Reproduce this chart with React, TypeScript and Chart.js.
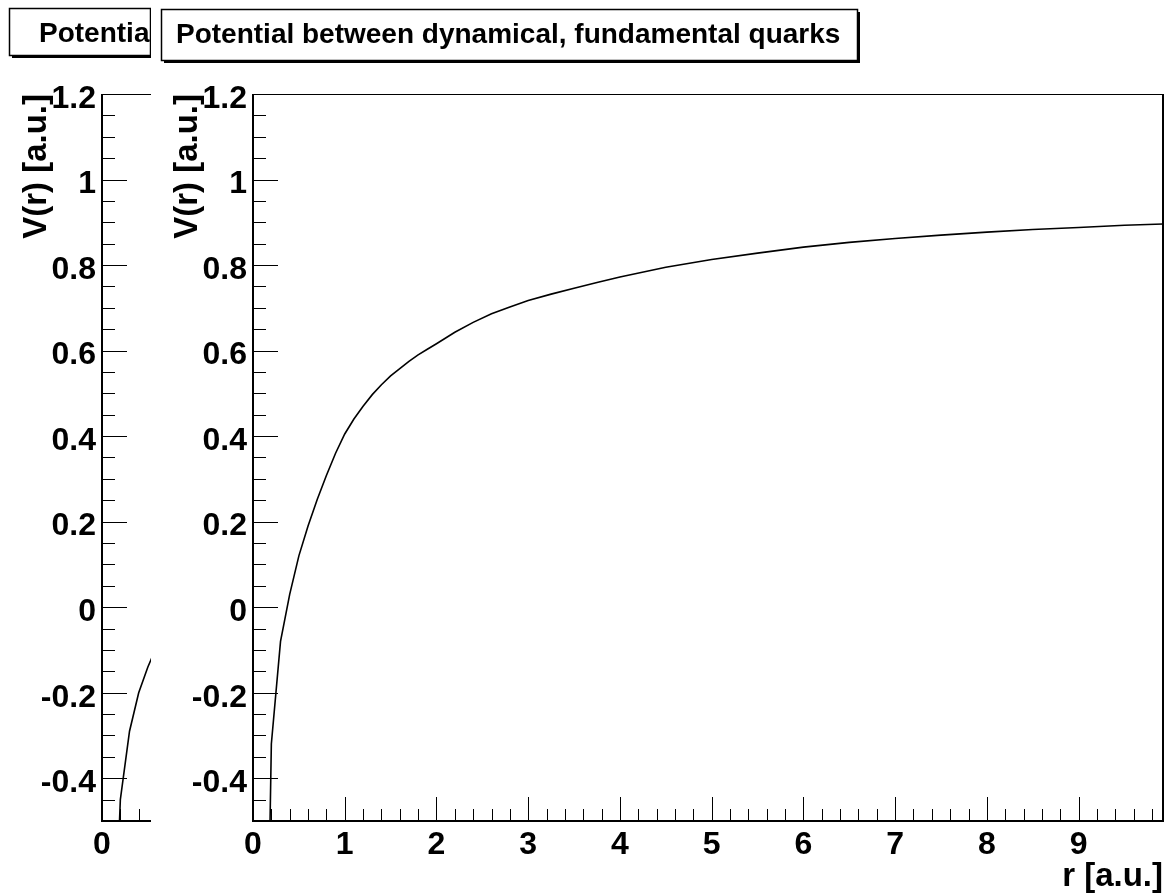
import React, { useEffect, useRef } from "react";
import { Chart, registerables } from "chart.js";

Chart.register(...registerables);

// ---------- data ----------
// Right canvas: dynamical, fundamental quarks
const R_DYN = [0.1, 0.2, 0.3, 0.4, 0.5, 0.6, 0.7, 0.8, 0.9, 1.0, 1.1, 1.2, 1.3, 1.4, 1.5, 1.6, 1.7, 1.8, 1.9, 2.0, 2.2, 2.4, 2.6, 2.8, 3.0, 3.25, 3.5, 3.75, 4.0, 4.5, 5.0, 5.5, 6.0, 6.5, 7.0, 7.5, 8.0, 8.5, 9.0, 9.5, 9.92];
const V_DYN = [-1.6, -0.32, -0.08, 0.03, 0.12, 0.19, 0.252, 0.308, 0.36, 0.405, 0.44, 0.47, 0.497, 0.52, 0.541, 0.558, 0.575, 0.59, 0.603, 0.616, 0.643, 0.666, 0.686, 0.702, 0.717, 0.732, 0.746, 0.759, 0.772, 0.795, 0.813, 0.828, 0.842, 0.853, 0.862, 0.87, 0.877, 0.883, 0.888, 0.893, 0.896];

// Left canvas (mostly hidden behind the right one)
const R_STAT = [0.1, 0.2, 0.3, 0.4, 0.5, 0.6, 0.8];
const V_STAT = [-1.0, -0.45, -0.29, -0.2, -0.14, -0.09, -0.02];

const X_TICKS = [0, 1, 2, 3, 4, 5, 6, 7, 8, 9];
const Y_TICKS = [-0.4, -0.2, 0, 0.2, 0.4, 0.6, 0.8, 1, 1.2];
const X_MIN = 0;
const X_MAX = 9.92;
const Y_MIN = -0.5;
const Y_MAX = 1.2;
const X_MINOR = 0.2;
const Y_MINOR = 0.05;

const TITLE_DYN = "Potential between dynamical, fundamental quarks";
const TITLE_STAT = "Potential between static, fundamental quarks";
const X_TITLE = "r [a.u.]";
const Y_TITLE = "V(r) [a.u.]";

// ---------- layout ----------
const W = 1014;
const H = 895;
const FONT_FAMILY = '"Liberation Sans", Arial, Helvetica, sans-serif';

const fmt = (v: number) => String(Math.round(v * 10) / 10);

const rootStyle = {
  id: "rootStyle",
  beforeDraw(chart: any) {
    const { ctx, width, height } = chart;
    ctx.save();
    ctx.fillStyle = "#fff";
    ctx.fillRect(0, 0, width, height);
    ctx.restore();
  },
  afterDraw(chart: any, _args: any, opts: any) {
    const { ctx, chartArea: a } = chart;
    const xs = chart.scales.x;
    const ys = chart.scales.y;
    ctx.save();
    ctx.strokeStyle = "#000";
    ctx.lineWidth = 1;
    // y ticks (inside, from left axis)
    const nY = Math.round((Y_MAX - Y_MIN) / Y_MINOR);
    for (let k = 0; k <= nY; k++) {
      const v = Y_MIN + k * Y_MINOR;
      const major = Y_TICKS.some((t) => Math.abs(t - v) < 1e-6);
      const py = Math.round(ys.getPixelForValue(v)) + 0.5;
      ctx.beginPath();
      ctx.moveTo(a.left, py);
      ctx.lineTo(a.left + (major ? 25 : 13), py);
      ctx.stroke();
    }
    // x ticks (inside, from bottom axis)
    const nX = Math.floor((X_MAX - X_MIN) / X_MINOR + 1e-6);
    for (let k = 0; k <= nX; k++) {
      const v = X_MIN + k * X_MINOR;
      const major = X_TICKS.some((t) => Math.abs(t - v) < 1e-6);
      const px = Math.round(xs.getPixelForValue(v)) + 0.5;
      ctx.beginPath();
      ctx.moveTo(px, a.bottom);
      ctx.lineTo(px, a.bottom - (major ? 24 : 12));
      ctx.stroke();
    }
    // frame
    ctx.lineWidth = 2;
    ctx.beginPath();
    ctx.moveTo(a.left, a.top);
    ctx.lineTo(a.left, a.bottom);
    ctx.lineTo(a.right, a.bottom);
    ctx.lineTo(a.right, a.top);
    ctx.stroke();
    ctx.lineWidth = 1.2;
    ctx.beginPath();
    ctx.moveTo(a.left, a.top + 0.5);
    ctx.lineTo(a.right, a.top + 0.5);
    ctx.stroke();

    // title box with shadow
    const b = opts.box;
    ctx.fillStyle = "#000";
    ctx.fillRect(b.x + 3, b.y + b.h, b.w, 3);
    ctx.fillRect(b.x + b.w, b.y + 3, 3, b.h);
    ctx.fillStyle = "#fff";
    ctx.fillRect(b.x, b.y, b.w, b.h);
    ctx.lineWidth = 1.5;
    ctx.strokeStyle = "#000";
    ctx.strokeRect(b.x + 0.5, b.y + 0.5, b.w, b.h);
    ctx.beginPath();
    ctx.rect(b.x + 1, b.y + 1, b.w - 1, b.h - 1);
    ctx.clip();
    ctx.fillStyle = "#000";
    ctx.font = `bold 28px ${FONT_FAMILY}`;
    ctx.textBaseline = "alphabetic";
    ctx.textAlign = "left";
    ctx.fillText(opts.text, opts.textX, opts.baseline);
    ctx.restore();
  },
};

type Props = {
  r: number[];
  v: number[];
  title: string;
  box: { x: number; y: number; w: number; h: number };
  textX: number;
  baseline: number;
};

function RootChart({ r, v, title, box, textX, baseline }: Props) {
  const ref = useRef<HTMLCanvasElement>(null);
  useEffect(() => {
    const tickFont = { family: FONT_FAMILY, size: 32, weight: "bold" as const };
    const titleFont = { family: FONT_FAMILY, size: 33, weight: "bold" as const };
    const chart = new Chart(ref.current as HTMLCanvasElement, {
      type: "line",
      data: {
        datasets: [
          {
            data: r.map((x, i) => ({ x, y: v[i] })),
            borderColor: "#000",
            borderWidth: 1.6,
            pointRadius: 0,
            tension: 0,
            fill: false,
          },
        ],
      },
      options: {
        responsive: false,
        animation: false,
        devicePixelRatio: 1,
        layout: { padding: { top: 94, right: 2, left: 0, bottom: 0 } },
        plugins: {
          legend: { display: false },
          tooltip: { enabled: false },
          title: { display: false },
          rootStyle: { text: title, box, textX, baseline },
        } as any,
        scales: {
          x: {
            type: "linear",
            min: X_MIN,
            max: X_MAX,
            grid: { display: false, drawTicks: false },
            border: { display: false },
            afterBuildTicks: (s: any) => {
              s.ticks = X_TICKS.map((t) => ({ value: t }));
            },
            afterFit: (s: any) => {
              s.height = 74;
            },
            ticks: {
              padding: 5,
              color: "#000",
              font: tickFont,
              maxRotation: 0,
              autoSkip: false,
              callback: (val: any) => fmt(Number(val)),
            },
            title: {
              display: true,
              text: X_TITLE,
              align: "end",
              color: "#000",
              font: titleFont,
              padding: { top: 0, bottom: -2 },
            },
          },
          y: {
            type: "linear",
            min: Y_MIN,
            max: Y_MAX,
            grid: { display: false, drawTicks: false },
            border: { display: false },
            afterBuildTicks: (s: any) => {
              s.ticks = Y_TICKS.map((t) => ({ value: t }));
            },
            afterFit: (s: any) => {
              s.width = 102;
            },
            ticks: {
              padding: 6,
              color: "#000",
              font: tickFont,
              labelOffset: 5,
              autoSkip: false,
              callback: (val: any) => fmt(Number(val)),
            },
            title: {
              display: true,
              text: Y_TITLE,
              align: "end",
              color: "#000",
              font: titleFont,
              padding: { top: 17, bottom: 0 },
            },
          },
        },
      },
      plugins: [rootStyle],
    });
    return () => chart.destroy();
  }, []);
  return (
    <canvas
      ref={ref}
      width={W}
      height={H}
      style={{ display: "block", width: W, height: H }}
    />
  );
}

export default function App() {
  return (
    <div
      style={{
        position: "fixed",
        left: 0,
        top: 0,
        width: 1165,
        height: 895,
        background: "#fff",
        overflow: "hidden",
      }}
    >
      <div
        style={{
          position: "absolute",
          left: 0,
          top: 0,
          width: 151,
          height: H,
          overflow: "hidden",
        }}
      >
        <RootChart
          r={R_STAT}
          v={V_STAT}
          title={TITLE_STAT}
          box={{ x: 9, y: 8, w: 141, h: 47 }}
          textX={39}
          baseline={42}
        />
      </div>
      <div
        style={{
          position: "absolute",
          left: 151,
          top: 0,
          width: W,
          height: H,
          background: "#fff",
        }}
      >
        <RootChart
          r={R_DYN}
          v={V_DYN}
          title={TITLE_DYN}
          box={{ x: 10, y: 9, w: 696, h: 51 }}
          textX={25}
          baseline={43}
        />
      </div>
    </div>
  );
}
